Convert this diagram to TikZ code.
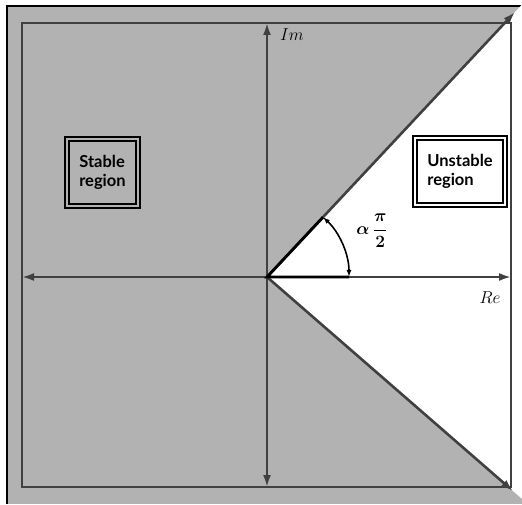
\documentclass[tikz,border=0pt]{standalone}
\usepackage{amsmath}
\usepackage{fontspec}
\newfontfamily\boxfont{Lato}
\usetikzlibrary{arrows.meta,calc}

\begin{document}
\begin{tikzpicture}[x=1pt, y=1pt,
  axis/.style={line width=2.2pt, draw=black!75, {Latex[length=12pt,width=8pt]}-{Latex[length=12pt,width=8pt]}},
  ray/.style={line width=2.6pt, draw=black!75, -{Latex[length=12pt,width=8pt]}},
  frame/.style={line width=1.8pt, draw=black!75},
  regionbox/.style={rectangle, draw=black, line width=1.6pt, double distance=2.8pt, align=left,
    font=\boxfont\bfseries\fontsize{16.5}{19.5}\selectfont, minimum height=67pt},
  marker/.style={line width=2.8pt, draw=black},
  axlabel/.style={font=\fontsize{16}{19}\selectfont},
  anglabel/.style={font=\boldmath\fontsize{19}{22}\selectfont}
]
\useasboundingbox (0,0) rectangle (522,504);

% Background
\fill[black!30] (8,0) rectangle (522,497);
\draw[line width=2pt, black] (7,0) -- (7,498) -- (522,498);

% Origin and end points
\coordinate (O) at (267,227);
\coordinate (ut) at (515,492);
\coordinate (lt) at (513,13);

% Unstable wedge
\fill[white] (O) -- ($(O)!1.03!(ut)$) -- ($(O)!1.04!(lt)$) -- cycle;

% Inner frame
\draw[frame] (22,17) rectangle (511,481);

% Axes
\coordinate (top) at (267,481);
\coordinate (bot) at (267,17);
\coordinate (lft) at (22,227);
\coordinate (rgt) at (511,227);
\draw[axis] (bot) -- (top);
\draw[axis] (lft) -- (rgt);
\node[axlabel] (im) at (292,469) {$Im$};
\node[axlabel] (re) at (490,206) {$Re$};

% Boundary rays
\draw[ray] (O) -- (ut);
\draw[ray] (O) -- (lt);

% Angle
\coordinate (a0) at ($(O)+(82,0)$);
\coordinate (a1) at ($(O)+(46.9:82)$);
\draw[marker] (a0) -- (O) -- (a1);
\draw[line width=1.6pt, {Latex[length=7pt,width=5pt]}-{Latex[length=7pt,width=5pt]}]
  (a0) arc[start angle=0, end angle=46.9, radius=82];
\node[anglabel] (ang) at (372,273) {$\alpha\,\dfrac{\pi}{2}$};

% Region boxes
\node[regionbox, fill=black!30, double=black!30, minimum width=71pt] (stable) at (102.5,331.5) {Stable\\region};
\node[regionbox, fill=white, double=white, minimum width=90pt] (unstable) at (460,332.5) {Unstable\\region};

\end{tikzpicture}
\end{document}
